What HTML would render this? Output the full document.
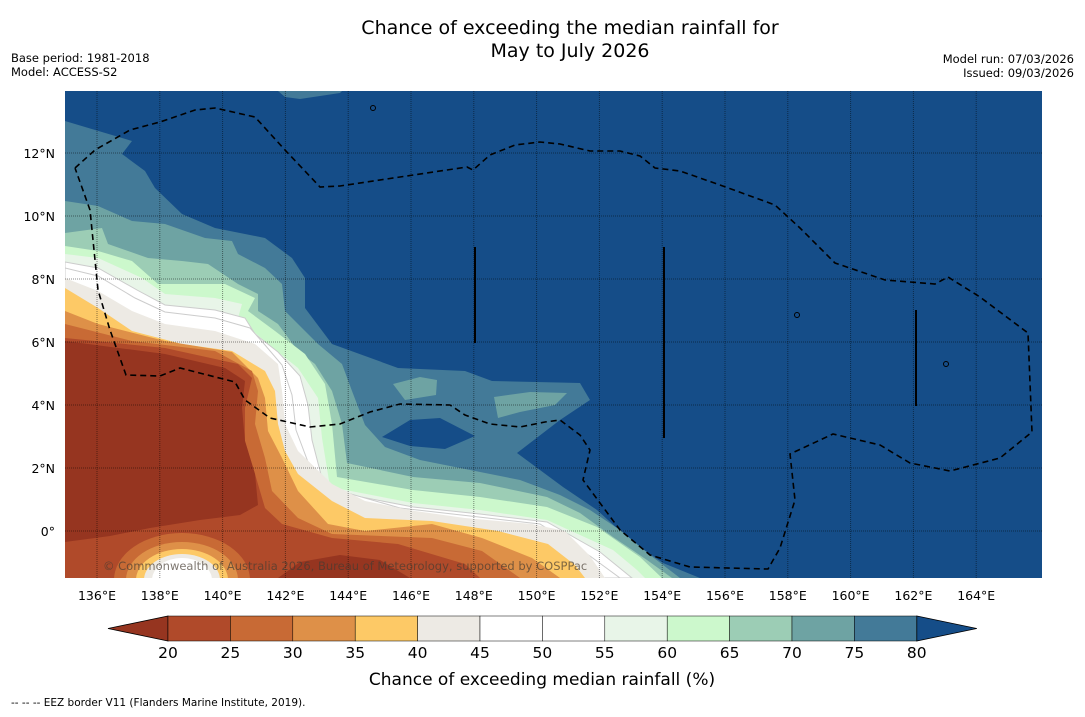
<!DOCTYPE html>
<html><head><meta charset="utf-8">
<style>
body{margin:0;background:#fff;width:1085px;height:713px;overflow:hidden;font-family:"DejaVu Sans","Liberation Sans",sans-serif}
</style></head>
<body>
<svg id="chart" width="1085" height="713" xmlns="http://www.w3.org/2000/svg" font-family="DejaVu Sans, Liberation Sans, sans-serif">
<text x="570" y="34" font-size="19" text-anchor="middle">Chance of exceeding the median rainfall for</text>
<text x="570" y="57" font-size="19" text-anchor="middle">May to July 2026</text>
<text x="11" y="62" font-size="11.5">Base period: 1981-2018</text>
<text x="11" y="76" font-size="11.5">Model: ACCESS-S2</text>
<text x="1074" y="63" font-size="11.5" text-anchor="end">Model run: 07/03/2026</text>
<text x="1074" y="77" font-size="11.5" text-anchor="end">Issued: 09/03/2026</text>
<defs><clipPath id="mapclip"><rect x="65" y="91" width="977" height="487"/></clipPath></defs>
<g id="map" clip-path="url(#mapclip)"></g>
<g id="axes"></g>
<g id="cbar"></g>
<text x="542" y="685" font-size="17" text-anchor="middle">Chance of exceeding median rainfall (%)</text>
<text x="11" y="706" font-size="10.5">--  --  -- EEZ border V11 (Flanders Marine Institute, 2019).</text>
</svg>
<script>
const NS="http://www.w3.org/2000/svg";
// colour levels
const levels=[20,25,30,35,40,45,50,55,60,65,70,75,80];
const bandColors=["#963520","#b04a2a","#c86a35","#de9048","#fdc966","#edeae4","#ffffff","#ffffff","#e8f5e8","#ccf8cc","#9ccdb5","#6ea3a3","#437a98","#154d88"];
const lonTicks=[136,138,140,142,144,146,148,150,152,154,156,158,160,162,164];
const latTicks=[0,2,4,6,8,10,12];
// contour boundaries (lon/lat-projected pixels) of region value < threshold
const c80=[[65,121],[132,141],[122,154],[145,171],[155,188],[182,214],[215,228],[265,238],[292,258],[305,278],[305,308],[332,344],[398,368],[465,371],[492,381],[580,383],[590,400],[560,420],[517,453],[563,487],[597,510],[630,540],[663,563],[700,578]];
const c75=[[65,201],[98,206],[132,221],[165,224],[205,238],[232,241],[238,254],[265,268],[282,284],[285,311],[318,344],[342,364],[352,391],[365,425],[385,447],[420,460],[470,470],[520,480],[560,495],[590,510],[620,530],[650,555],[680,578]];
const c70=[[65,233],[102,228],[108,244],[148,258],[182,261],[208,264],[238,284],[258,294],[258,311],[278,324],[298,351],[315,364],[332,391],[342,424],[347,463],[413,477],[480,483],[547,497],[580,513],[613,537],[647,560],[672,578]];
const c65=[[65,246],[98,251],[132,261],[158,284],[225,284],[255,298],[248,311],[275,331],[305,354],[325,384],[332,424],[337,477],[413,490],[480,497],[547,507],[597,527],[640,557],[662,578]];
const c60=[[65,254],[98,258],[142,278],[165,294],[215,298],[242,304],[238,318],[268,344],[298,368],[318,398],[322,438],[330,487],[413,503],[480,510],[547,520],[613,550],[637,570],[645,578]];
const c55=[[65,262],[98,268],[137,290],[165,305],[215,310],[245,318],[255,334],[278,352],[300,376],[308,405],[312,440],[325,490],[413,507],[480,514],[547,522],[600,552],[632,578]];
const c50=[[65,268],[98,276],[135,298],[165,312],[215,318],[250,328],[265,345],[282,365],[292,395],[296,430],[308,462],[330,488],[400,508],[470,516],[540,524],[590,556],[620,578]];
const c45=[[65,278],[98,291],[132,311],[165,324],[215,331],[255,344],[278,364],[282,391],[285,424],[298,451],[332,484],[365,501],[415,511],[465,518],[532,524],[565,531],[590,556],[605,578]];
const c40=[[65,288],[98,308],[132,331],[182,344],[232,351],[265,371],[275,391],[278,424],[285,451],[298,474],[332,501],[365,518],[432,521],[498,531],[548,544],[575,565],[585,578]];
const c35=[[65,311],[98,324],[165,341],[232,352],[258,378],[265,398],[268,431],[282,458],[298,491],[328,524],[365,531],[432,524],[482,538],[532,558],[560,578]];
const c30=[[65,324],[132,341],[215,351],[252,371],[258,391],[255,424],[265,458],[272,491],[298,518],[332,534],[432,538],[482,551],[520,578]];
const c25=[[65,338],[165,348],[238,364],[252,378],[245,408],[245,441],[255,474],[265,508],[282,524],[332,538],[398,544],[465,564],[480,578]];
const c20=[[65,341],[165,354],[225,368],[245,381],[242,408],[245,441],[255,474],[258,505],[240,515],[200,520],[150,528],[110,536],[65,542]];
const contours=[c80,c75,c70,c65,c60,c55,c50,c45,c40,c35,c30,c25,c20];
const eez=[[75,168],[95,150],[130,130],[160,122],[195,110],[215,108],[255,117],[285,150],[320,187],[340,186],[400,177],[467,167],[473,170],[490,155],[515,145],[540,142],[560,144],[590,151],[620,151],[640,156],[655,168],[680,171],[720,185],[775,205],[800,228],[835,263],[885,280],[935,284],[948,277],[980,297],[1028,333],[1032,432],[1000,458],[950,471],[910,463],[880,445],[833,434],[790,454],[795,500],[780,548],[768,569],[690,567],[650,555],[620,530],[583,480],[590,450],[580,435],[560,420],[545,422],[520,427],[490,424],[465,415],[450,405],[400,404],[370,412],[340,424],[310,427],[270,418],[245,400],[235,382],[180,368],[160,376],[126,375],[110,330],[98,290],[93,240],[90,210],[75,168]];
const xOf=lon=>97+(lon-136)*31.4;
const yOf=lat=>531-lat*31.5;
const map=document.getElementById('map');
function mk(tag,attrs,parent){const e=document.createElementNS(NS,tag);for(const k in attrs)e.setAttribute(k,attrs[k]);parent.appendChild(e);return e;}
const pts=a=>a.map(p=>p.join(',')).join(' ');
let bg=mk('rect',{x:65,y:91,width:977,height:487,fill:bandColors[13]},map);


let tongue=mk('polygon',{points:'278,91 285,97 300,99 340,93 342,91',fill:bandColors[12]},map);


contours.forEach((c,i)=>{
  const thr=levels[12-i];
  const poly=c.concat([[65,578]]);
  const p=mk('polygon',{points:pts(poly),fill:bandColors[12-i]},map);
  if(thr<=55&&thr>=50)p.setAttribute('stroke','#ccc');
  
  
  if(i===1){
    let b1=mk('polygon',{points:'393,384 420,377 437,380 436,395 405,400',fill:bandColors[11]},map);
    
    
    let b2=mk('polygon',{points:'494,397 530,392 567,393 555,405 520,412 498,418',fill:bandColors[11]},map);
    
    
  }
  if(i===0){
    let isl=mk('polygon',{points:'382,437 410,420 440,418 475,436 445,449 410,446',fill:bandColors[13]},map);
    
    
  }
});
// bottom blob of low values
let lb=mk('polygon',{points:'278,578 300,562 340,555 380,560 410,578',fill:bandColors[0]},map);


[[68,47,bandColors[2]],[56,38,bandColors[3]],[46,31,bandColors[4]],[38,26,bandColors[5]],[30,22,'#ffffff']].forEach(e=>{
  const el=mk('ellipse',{cx:182,cy:580,rx:e[0],ry:e[1],fill:e[2]},map);
  
  
});
// grid
lonTicks.forEach(l=>{const g=mk('line',{x1:xOf(l),x2:xOf(l),y1:91,y2:578,stroke:'rgba(0,0,0,0.45)','stroke-width':1,'stroke-dasharray':'1,1'},map);

});
latTicks.forEach(l=>{const g=mk('line',{x1:65,x2:1042,y1:yOf(l),y2:yOf(l),stroke:'rgba(0,0,0,0.45)','stroke-width':1,'stroke-dasharray':'1,1'},map);

});
// EEZ
let ez=mk('polyline',{points:pts(eez),fill:'none',stroke:'#000','stroke-width':1.6,'stroke-dasharray':'6,4'},map);


[[475,247,343],[664,247,438],[916,310,406]].forEach(v=>{const l=mk('line',{x1:v[0],x2:v[0],y1:v[1],y2:v[2],stroke:'#000','stroke-width':2},map);

});
[[373,108],[797,315],[946,364]].forEach(d=>{const c=mk('circle',{cx:d[0],cy:d[1],r:2.5,fill:'none',stroke:'#000','stroke-width':1},map);

});
let wm=mk('text',{x:103,y:570,'font-size':11.5,fill:'rgba(70,60,50,0.7)'},map);
wm.textContent='© Commonwealth of Australia 2026, Bureau of Meteorology, supported by COSPPac';


// axes labels
const axes=document.getElementById('axes');
lonTicks.forEach(l=>{const t=mk('text',{x:xOf(l),y:600,'font-size':12.5,'text-anchor':'middle'},axes);t.textContent=l+'°E';

});
latTicks.forEach(l=>{const t=mk('text',{x:55,y:yOf(l)+5,'font-size':12.5,'text-anchor':'end'},axes);t.textContent=l===0?'0°':l+'°N';

});
// colorbar
const cb=document.getElementById('cbar');
const cx0=168,cw=62.4,cy=616,ch=25;
let lt=mk('polygon',{points:`108,${cy+ch/2} ${cx0},${cy} ${cx0},${cy+ch}`,fill:bandColors[0],stroke:'#000','stroke-width':0.8},cb);


for(let i=0;i<12;i++){const r=mk('rect',{x:cx0+i*cw,y:cy,width:cw,height:ch,fill:bandColors[i+1],stroke:'#000','stroke-width':0.5},cb);

}
const xe=cx0+12*cw;
let rt=mk('polygon',{points:`${xe},${cy} ${xe},${cy+ch} ${xe+60},${cy+ch/2}`,fill:bandColors[13],stroke:'#000','stroke-width':0.8},cb);


levels.forEach((v,i)=>{const t=mk('text',{x:cx0+i*cw,y:658,'font-size':15.5,'text-anchor':'middle'},cb);t.textContent=v;

});
</script>
</body></html>
